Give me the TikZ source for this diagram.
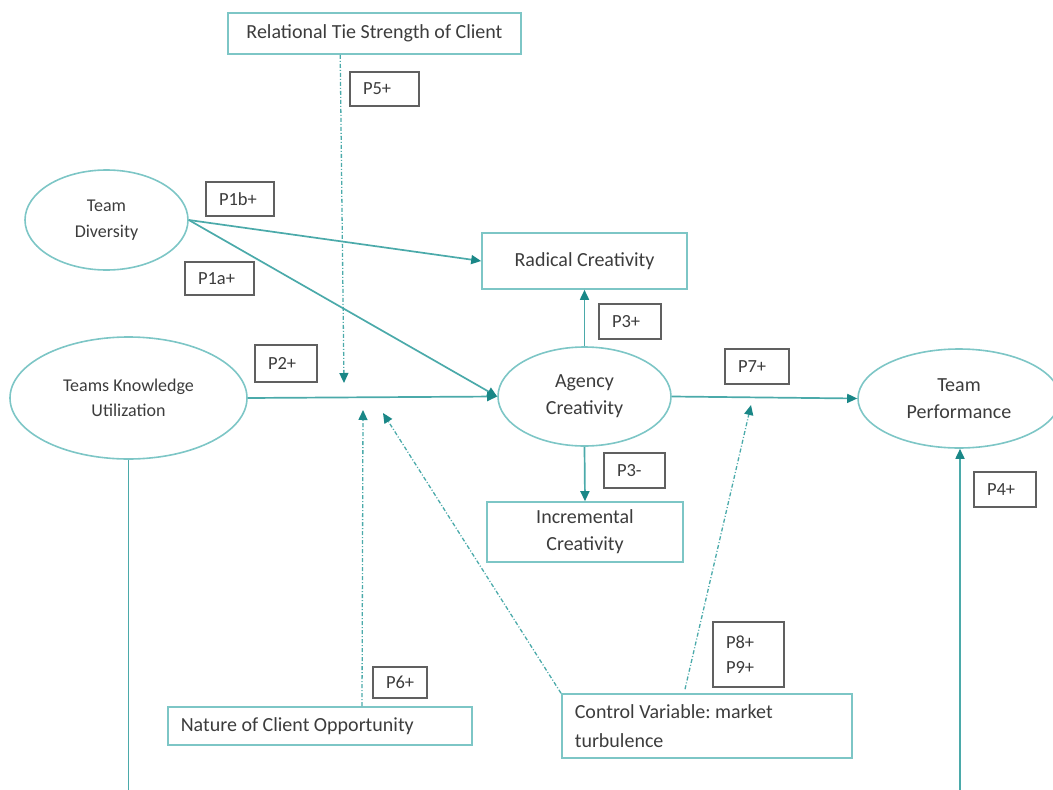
\documentclass[tikz,border=0pt]{standalone}
\usepackage{fontspec}
\setmainfont{Carlito}
\frenchspacing
\usetikzlibrary{arrows.meta,shapes.geometric}
\definecolor{tline}{RGB}{75,170,170}
\definecolor{tbox}{RGB}{125,198,198}
\definecolor{thead}{RGB}{26,135,135}
\definecolor{ptext}{RGB}{60,60,60}
\definecolor{pbox}{RGB}{96,96,96}
\tikzset{
  mainfont/.style={font=\fontsize{20}{27}\selectfont},
  smallfont/.style={font=\fontsize{18}{25.5}\selectfont},
  varbox/.style={draw=tbox, line width=1.6pt, rectangle, inner sep=0pt, text=ptext, align=center, mainfont},
  varell/.style={draw=tbox, line width=1.6pt, ellipse, inner sep=0pt, text=ptext, align=center},
  pbox/.style={draw=pbox, line width=1.3pt, rectangle, inner sep=0pt, inner xsep=13pt, text=ptext, align=flush left, font=\fontsize{18.5}{25}\selectfont},
  arr/.style={draw=tline, line width=1.7pt, -{Triangle[length=10pt,width=9pt,fill=thead,color=thead]}},
  plain/.style={draw=tline, line width=1.7pt},
  dotarr/.style={draw=tline, line width=1.3pt, dash pattern=on 4pt off 2pt on 1pt off 2pt, -{Triangle[length=10pt,width=9pt,fill=thead,color=thead]}},
}
\begin{document}
\begin{tikzpicture}[x=1pt,y=-1pt]
\useasboundingbox (0,0) rectangle (1053,790);
\clip (0,0) rectangle (1053,790);
\coordinate (bot) at (0,792);
% variable nodes
\node[varbox, minimum width=293pt, minimum height=41pt] (rel) at (374.5,33.5) {Relational Tie Strength of Client};
\node[varell, smallfont, minimum width=163pt, minimum height=100pt] (td) at (106.5,220) {Team\\Diversity};
\node[varell, smallfont, minimum width=237pt, minimum height=122pt] (tku) at (128.5,398) {Teams Knowledge\\Utilization};
\node[varbox, minimum width=205pt, minimum height=56pt] (rad) at (584.5,261) {Radical Creativity};
\node[varell, mainfont, minimum width=173pt, minimum height=99pt] (ag) at (584.5,396.5) {Agency\\Creativity};
\node[varbox, minimum width=196pt, minimum height=60pt] (inc) at (585,532) {Incremental\\Creativity};
\node[varell, mainfont, minimum width=202pt, minimum height=99pt] (tp) at (959,398.5) {Team\\Performance};
\node[varbox, anchor=west, minimum height=38pt, text width=278pt, inner xsep=13pt, align=flush left] (nat) at (167,726) {Nature of Client Opportunity};
\node[varbox, anchor=west, minimum height=64pt, text width=264pt, inner xsep=13pt, align=flush left, font=\fontsize{20}{29}\selectfont] (ctl) at (561,726) {Control Variable: market\\turbulence};
% proposition labels
\node[pbox, text width=43pt, minimum height=34pt] (p5) at (384.5,89) {P5+};
\node[pbox, text width=42pt, minimum height=34pt] (p1b) at (240,199) {P1b+};
\node[pbox, text width=43pt, minimum height=33pt] (p1a) at (219.5,278.5) {P1a+};
\node[pbox, text width=36pt, minimum height=37pt] (p2) at (286,363.5) {P2+};
\node[pbox, text width=36pt, minimum height=35pt] (p3a) at (630,321.5) {P3+};
\node[pbox, text width=38pt, minimum height=35pt] (p7) at (757,366.5) {P7+};
\node[pbox, text width=35pt, minimum height=35pt] (p3b) at (634.5,470.5) {P3-};
\node[pbox, text width=36pt, minimum height=35pt] (p4) at (1005,489.5) {P4+};
\node[pbox, text width=28pt, minimum height=31pt] (p6) at (400,682.5) {P6+};
\node[pbox, text width=45pt, minimum height=65pt] (p89) at (748.5,654.5) {P8+\\P9+};
% moderator targets
\coordinate (m1) at (344,383);
\coordinate (m2) at (363,410);
\coordinate (m3) at (383,413);
\coordinate (m4) at (751,405);
% main paths
\draw[arr] (td.east) -- (rad.west);
\draw[arr] (td.east) -- (ag.west);
\draw[arr] (tku.east) -- (ag.west);
\draw[arr] (ag.north) -- (rad.south);
\draw[arr] (ag.south) -- (inc.north);
\draw[arr] (ag.east) -- (tp.west);
\draw[plain] (tku.south) -- (tku.south |- bot);
\draw[arr] ([xshift=1pt]tp.south |- bot) -- ([xshift=1pt]tp.south);
% moderating paths
\draw[dotarr] ([xshift=113pt]rel.south west) -- (m1);
\draw[dotarr] ([xshift=195pt]nat.north west) -- (m2);
\draw[dotarr] (ctl.north west) -- (m3);
\draw[dotarr] ([xshift=124pt,yshift=4pt]ctl.north west) -- (m4);
\end{tikzpicture}
\end{document}
